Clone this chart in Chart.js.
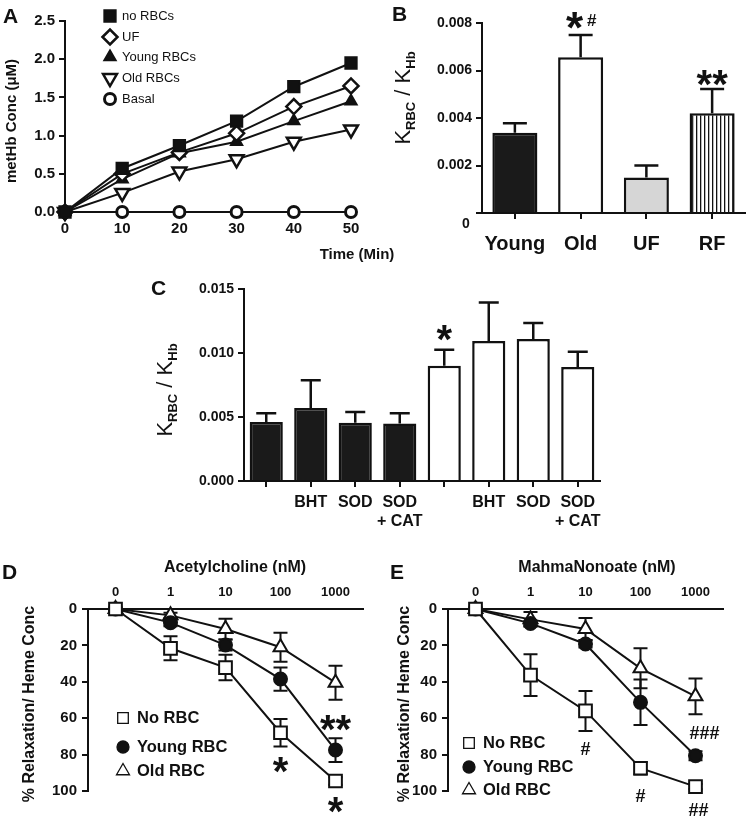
<!DOCTYPE html>
<html>
<head>
<meta charset="utf-8">
<script src="https://cdn.jsdelivr.net/npm/chart.js@4.4.1/dist/chart.umd.min.js"></script>
<style>
html, body { margin: 0; padding: 0; background: #fff; }
#wrap { position: relative; width: 750px; height: 827px; overflow: hidden; }
canvas { position: absolute; left: 0; top: 0; }
</style>
</head>
<body>
<div id="wrap">
  <canvas id="cA" width="750" height="827"></canvas>
  <canvas id="cB" width="750" height="827"></canvas>
  <canvas id="cC" width="750" height="827"></canvas>
  <canvas id="cD" width="750" height="827"></canvas>
  <canvas id="cE" width="750" height="827"></canvas>
</div>
<script>
// ---- data ----
// A: metHb over time
const timesA = [0, 10, 20, 30, 40, 50];
const noRbcA = [0, 0.57, 0.87, 1.19, 1.64, 1.95];
const ufA = [0, 0.50, 0.78, 1.03, 1.38, 1.65];
const youngA = [0, 0.43, 0.77, 0.92, 1.19, 1.45];
const oldA = [0, 0.25, 0.53, 0.69, 0.92, 1.08];
const basalA = [0, 0, 0, 0, 0, 0];
const yTicksA = [0, 0.5, 1.0, 1.5, 2.0, 2.5];

// B: K_RBC / K_Hb by group
const groupsB = ['Young', 'Old', 'UF', 'RF'];
const ratioB = [0.00338, 0.00656, 0.00149, 0.0042];
const semB = [0.0004, 0.00094, 0.00051, 0.00102];
const yTicksB = [0, 0.002, 0.004, 0.006, 0.008];

// C: young (black) vs old (white) with antioxidants
const labelsC = ['', 'BHT', 'SOD', ['SOD', '+ CAT'], '', 'BHT', 'SOD', ['SOD', '+ CAT']];
const ratioC = [0.0046, 0.0057, 0.00455, 0.0045, 0.009, 0.01094, 0.0111, 0.0089];
const semC = [0.0007, 0.00217, 0.00085, 0.0008, 0.00126, 0.003, 0.00124, 0.0012];
const yTicksC = [0, 0.005, 0.010, 0.015];

// D / E: relaxation curves
const concLabels = ['0', '1', '10', '100', '1000'];
const yTicksDE = [0, 20, 40, 60, 80, 100];
const achNoRbc = [0, 21.6, 32.2, 68, 94.5];
const achYoung = [0, 7.5, 19.8, 38.5, 77.5];
const achOld = [0, 3.5, 11, 21, 40.5];
const achNoRbcErr = [0, 6.6, 7, 7.5, 2];
const achYoungErr = [0, 2, 3, 6.4, 6.5];
const achOldErr = [0, 1.5, 5.7, 8, 9.3];
const mahNoRbc = [0, 36.3, 56, 87.5, 97.6];
const mahYoung = [0, 7.9, 19.2, 51.3, 80.6];
const mahOld = [0, 5.7, 11, 32.6, 48];
const mahNoRbcErr = [0, 11.5, 11, 3.5, 1.5];
const mahYoungErr = [0, 1.5, 2, 12.5, 2.5];
const mahOldErr = [0, 4, 6, 11, 9.8];

// ---- helpers ----
const FONT = "'Liberation Sans', Arial, Helvetica, sans-serif";
const INK = '#111';
const AXW = 60, AXH = 60;

function pad(a, xTop) {
  return xTop
    ? { left: a.l - AXW, top: a.t - AXH, right: 750 - a.r, bottom: 827 - a.b }
    : { left: a.l - AXW, top: a.t, right: 750 - a.r, bottom: 827 - a.b - AXH };
}

function axis(o) {
  const ticks = { color: INK, font: { family: FONT, size: o.size, weight: 'bold' }, padding: o.padding ?? 3,
                  autoSkip: false, maxRotation: 0, minRotation: 0 };
  if (o.callback) ticks.callback = o.callback;
  const s = {
    type: o.type,
    position: o.position,
    reverse: !!o.reverse,
    border: { display: true, color: INK, width: 2 },
    grid: { display: true, drawOnChartArea: false, drawTicks: o.tick !== 0, tickLength: o.tick || 6,
            color: INK, lineWidth: 2, offset: false },
    ticks,
    afterFit: o.vertical ? sc => { sc.width = AXW; } : sc => { sc.height = AXH; }
  };
  if (o.min !== undefined) { s.min = o.min; s.max = o.max; }
  if (o.offset !== undefined) s.offset = o.offset;
  if (o.list) s.afterBuildTicks = sc => { sc.ticks = o.list.map(v => ({ value: v })); };
  return s;
}

function centered(ctx, t, x, y, font) {
  ctx.font = font;
  const m = ctx.measureText(t);
  ctx.textAlign = 'center';
  ctx.textBaseline = 'alphabetic';
  ctx.fillText(t, x, y + (m.actualBoundingBoxAscent - m.actualBoundingBoxDescent) / 2);
}

function rich(ctx, runs, cx, cy, rot) {
  ctx.save();
  ctx.translate(cx, cy);
  ctx.rotate(rot);
  let w = 0;
  runs.forEach(r => { ctx.font = r.f; r.w = ctx.measureText(r.t).width; w += r.w; });
  let x = -w / 2;
  ctx.textAlign = 'left';
  ctx.textBaseline = 'alphabetic';
  runs.forEach(r => { ctx.font = r.f; ctx.fillText(r.t, x, r.dy); x += r.w; });
  ctx.restore();
}

function drawErrors(chart, e) {
  const ctx = chart.ctx, ys = chart.scales.y;
  ctx.save();
  ctx.strokeStyle = INK;
  ctx.lineWidth = e.lw;
  e.sets.forEach((errs, di) => {
    const meta = chart.getDatasetMeta(di);
    const data = chart.data.datasets[di].data;
    meta.data.forEach((el, j) => {
      const err = errs[j];
      if (!err) return;
      const v = typeof data[j] === 'object' ? data[j].y : data[j];
      const x = el.x;
      const y1 = ys.getPixelForValue(v + err);
      const y0 = e.both ? ys.getPixelForValue(v - err) : el.y;
      ctx.beginPath();
      ctx.moveTo(x, y0); ctx.lineTo(x, y1);
      ctx.moveTo(x - e.cap / 2, y1); ctx.lineTo(x + e.cap / 2, y1);
      if (e.both) { ctx.moveTo(x - e.cap / 2, y0); ctx.lineTo(x + e.cap / 2, y0); }
      ctx.stroke();
    });
  });
  ctx.restore();
}

function extras(cfg) {
  return {
    id: 'extras',
    beforeDatasetsDraw(chart) { if (cfg.errors) drawErrors(chart, cfg.errors); },
    afterDraw(chart) {
      const ctx = chart.ctx;
      ctx.save();
      ctx.fillStyle = INK;
      (cfg.texts || []).forEach(t => {
        ctx.save();
        ctx.font = t.f;
        ctx.textAlign = t.align || 'center';
        ctx.textBaseline = t.base || 'middle';
        ctx.translate(t.x, t.y);
        if (t.rot) ctx.rotate(t.rot);
        ctx.fillText(t.t, 0, 0);
        ctx.restore();
      });
      (cfg.rich || []).forEach(r => rich(ctx, r.runs, r.x, r.y, r.rot));
      (cfg.notes || []).forEach(n => {
        const x = chart.scales.x.getPixelForValue(n.i) + (n.dx || 0);
        const y = chart.scales.y.getPixelForValue(n.v);
        centered(ctx, n.t, x, y, n.f);
      });
      const L = cfg.legend;
      if (L) {
        chart.data.datasets.forEach((ds, i) => {
          const y = L.ys[i];
          const lw = L.lw ?? ds.pointBorderWidth;
          ctx.fillStyle = ds.pointBackgroundColor;
          ctx.strokeStyle = L.stroke || ds.pointBorderColor;
          ctx.lineWidth = lw;
          Chart.helpers.drawPoint(ctx, {
            pointStyle: ds.pointStyle, rotation: ds.pointRotation || 0,
            radius: L.r ? L.r[i] : ds.pointRadius, borderWidth: lw
          }, L.mx, y);
          ctx.fillStyle = INK;
          ctx.font = L.f;
          ctx.textAlign = 'left';
          ctx.textBaseline = 'middle';
          ctx.fillText(ds.label, L.tx, y);
        });
      }
      ctx.restore();
    }
  };
}

function series(label, data, style, fill, r, rot, bw) {
  return {
    label, data,
    borderColor: INK, borderWidth: 2, tension: 0, fill: false, clip: false,
    pointStyle: style, pointRadius: r, pointRotation: rot,
    pointBackgroundColor: fill, pointBorderColor: INK, pointBorderWidth: bw
  };
}

function stripes() {
  const c = document.createElement('canvas');
  c.width = 4; c.height = 4;
  const g = c.getContext('2d');
  g.fillStyle = '#fff'; g.fillRect(0, 0, 4, 4);
  g.fillStyle = INK; g.fillRect(0, 0, 1.3, 4);
  return g.createPattern(c, 'repeat');
}

const base = {
  responsive: false, animation: false, events: [],
  plugins: { legend: { display: false }, tooltip: { enabled: false } }
};
const sub = (t, size, dy) => ({ t, f: `bold ${size}px ${FONT}`, dy });
const kTitle = [
  { t: 'K', f: `22px ${FONT}`, dy: 8 }, sub('RBC', 13, 13),
  { t: ' / K', f: `22px ${FONT}`, dy: 8 }, sub('Hb', 13, 13)
];
const letter = (t, x, y) => ({ t, x, y, f: `bold 21px ${FONT}`, align: 'left', base: 'alphabetic' });
const xy = ys => ys.map((v, i) => ({ x: timesA[i], y: v }));

// ---- A ----
const areaA = { l: 65, t: 21, r: 351, b: 212 };
new Chart(document.getElementById('cA'), {
  type: 'line',
  data: { datasets: [
    series('no RBCs', xy(noRbcA), 'rect', INK, 8, 0, 2),
    series('UF', xy(ufA), 'rectRot', '#fff', 7.5, 0, 2.5),
    series('Young RBCs', xy(youngA), 'triangle', INK, 6.5, 0, 2),
    series('Old RBCs', xy(oldA), 'triangle', '#fff', 8, 180, 2.5),
    series('Basal', xy(basalA), 'circle', '#fff', 5.5, 0, 3)
  ]},
  options: { ...base,
    layout: { padding: pad(areaA) },
    scales: {
      x: axis({ type: 'linear', position: 'bottom', min: 0, max: 50, size: 15, list: timesA,
                tick: 5, callback: v => String(v) }),
      y: axis({ type: 'linear', position: 'left', min: 0, max: 2.5, size: 15, list: yTicksA,
                vertical: true, padding: 4, callback: v => v.toFixed(1) })
    }
  },
  plugins: [extras({
    texts: [
      letter('A', 3, 23),
      { t: 'Time (Min)', x: 357, y: 255, f: `bold 15px ${FONT}` },
      { t: 'metHb Conc (\u03bcM)', x: 12, y: 121, rot: -Math.PI / 2, f: `bold 15px ${FONT}` }
    ],
    legend: { mx: 110, tx: 122, ys: [16, 37, 57, 78, 99], f: `13px ${FONT}` }
  })]
});

// ---- B ----
const areaB = { l: 482, t: 23, r: 745, b: 213 };
new Chart(document.getElementById('cB'), {
  type: 'bar',
  data: { labels: groupsB, datasets: [{
    data: ratioB,
    backgroundColor: ['#1a1a1a', '#ffffff', '#d6d6d6', stripes()],
    borderColor: INK, borderWidth: 2.5, borderSkipped: 'start',
    barPercentage: 0.685, categoryPercentage: 1
  }]},
  options: { ...base,
    layout: { padding: pad(areaB) },
    scales: {
      x: axis({ type: 'category', position: 'bottom', size: 20, padding: 13, offset: true }),
      y: axis({ type: 'linear', position: 'left', min: 0, max: 0.008, size: 14, list: yTicksB,
                vertical: true, padding: 4, callback: v => v === 0 ? '' : v.toFixed(3) })
    }
  },
  plugins: [extras({
    errors: { sets: [semB], cap: 24, lw: 2.5, both: false },
    texts: [
      letter('B', 392, 21),
      { t: '0', x: 466, y: 224, f: `bold 14px ${FONT}` }
    ],
    rich: [{ runs: kTitle, x: 402, y: 98, rot: -Math.PI / 2 }],
    notes: [
      { t: '*', i: 1, v: 0.00812, dx: -6, f: `bold 44px ${FONT}` },
      { t: '#', i: 1, v: 0.00812, dx: 11, f: `bold 17px ${FONT}` },
      { t: '**', i: 3, v: 0.00568, f: `bold 40px ${FONT}` }
    ]
  })]
});

// ---- C ----
const areaC = { l: 244, t: 289, r: 600, b: 481 };
new Chart(document.getElementById('cC'), {
  type: 'bar',
  data: { labels: labelsC, datasets: [{
    data: ratioC,
    backgroundColor: ratioC.map((v, i) => i < 4 ? '#1a1a1a' : '#ffffff'),
    borderColor: INK, borderWidth: 2.5, borderSkipped: 'start',
    barPercentage: 0.745, categoryPercentage: 1
  }]},
  options: { ...base,
    layout: { padding: pad(areaC) },
    scales: {
      x: axis({ type: 'category', position: 'bottom', size: 16, padding: 6, offset: true }),
      y: axis({ type: 'linear', position: 'left', min: 0, max: 0.015, size: 14, list: yTicksC,
                vertical: true, padding: 4, callback: v => v.toFixed(3) })
    }
  },
  plugins: [extras({
    errors: { sets: [semC], cap: 20, lw: 2.5, both: false },
    texts: [letter('C', 151, 295)],
    rich: [{ runs: kTitle, x: 164, y: 390, rot: -Math.PI / 2 }],
    notes: [{ t: '*', i: 4, v: 0.0116, f: `bold 40px ${FONT}` }]
  })]
});

// ---- D & E ----
function relaxChart(id, area, noRbc, young, old, errs, title, letterPos, legendX, legendYs, titleX, yTitleX, notes) {
  new Chart(document.getElementById(id), {
    type: 'line',
    data: { labels: concLabels, datasets: [
      series('No RBC', noRbc, 'rect', '#fff', 9, 0, 2),
      series('Young RBC', young, 'circle', INK, 6.5, 0, 2),
      series('Old RBC', old, 'triangle', '#fff', 8, 0, 2)
    ]},
    options: { ...base,
      layout: { padding: pad(area, true) },
      scales: {
        x: axis({ type: 'category', position: 'top', size: 13, tick: 0, padding: 9, offset: true }),
        y: axis({ type: 'linear', position: 'left', min: 0, max: 100, reverse: true, size: 15,
                  list: yTicksDE, vertical: true, padding: 5, callback: v => String(v) })
      }
    },
    plugins: [extras({
      errors: { sets: errs, cap: 14, lw: 2, both: true },
      texts: [
        letter(letterPos[0], letterPos[1], 579),
        { t: title, x: titleX, y: 568, f: `bold 16px ${FONT}` },
        { t: '% Relaxation/ Heme Conc', x: yTitleX, y: 704, rot: -Math.PI / 2, f: `bold 16px ${FONT}` }
      ],
      legend: { mx: legendX, tx: legendX + 14, ys: legendYs, f: `bold 16.5px ${FONT}`,
                lw: 1.3, r: [7.5, 6, 7.5] },
      notes
    })]
  });
}

relaxChart('cD', { l: 88, t: 609, r: 363, b: 791 }, achNoRbc, achYoung, achOld,
  [achNoRbcErr, achYoungErr, achOldErr], 'Acetylcholine (nM)', ['D', 2],
  123, [718, 747, 771], 235, 30, [
    { t: '**', i: 4, v: 62.6, f: `bold 40px ${FONT}` },
    { t: '*', i: 3, v: 85.7, f: `bold 40px ${FONT}` },
    { t: '*', i: 4, v: 107.7, f: `bold 40px ${FONT}` }
  ]);

relaxChart('cE', { l: 448, t: 609, r: 723, b: 791 }, mahNoRbc, mahYoung, mahOld,
  [mahNoRbcErr, mahYoungErr, mahOldErr], 'MahmaNonoate (nM)', ['E', 390],
  469, [743, 767, 790], 597, 405, [
    { t: '#', i: 2, v: 76.4, f: `bold 18px ${FONT}` },
    { t: '#', i: 3, v: 102.2, f: `bold 18px ${FONT}` },
    { t: '###', i: 4, v: 68.1, dx: 9, f: `bold 18px ${FONT}` },
    { t: '##', i: 4, v: 110.4, dx: 3, f: `bold 18px ${FONT}` }
  ]);
</script>
</body>
</html>
